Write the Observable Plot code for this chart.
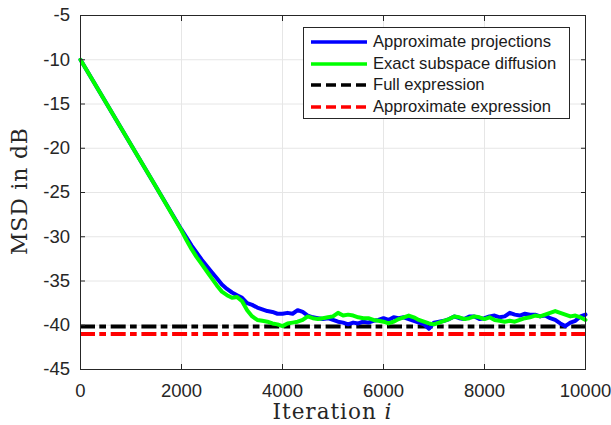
<!DOCTYPE html>
<html>
<head>
<meta charset="utf-8">
<script src="https://cdn.jsdelivr.net/npm/d3@7"></script>
<script src="https://cdn.jsdelivr.net/npm/@observablehq/plot@0.6"></script>
<style>
  body { margin: 0; background: white; }
  #wrap { position: relative; width: 611px; height: 425px; }
  #legend { position: absolute; left: 303px; top: 27px; width: 267px; height: 92px;
    border: 1px solid #262626; background: white; box-sizing: border-box;
    font-family: "Liberation Sans", Arial, sans-serif; font-size: 16.6px; color: #1a1a1a; }
  .row { position: absolute; left: 0; height: 20px; display: flex; align-items: center; white-space: nowrap; }
  .row svg { margin-left: 7px; margin-right: 6px; }
</style>
</head>
<body>
<div id="wrap"><div id="legend"></div></div>
<script>
const seriesNames = ["Approximate projections", "Exact subspace diffusion", "Full expression", "Approximate expression"];
const seriesColors = ["#0000ff", "#00ff00", "#000000", "#ff0000"];
const xTicks = [0, 2000, 4000, 6000, 8000, 10000];
const yTicks = [-45, -40, -35, -30, -25, -20, -15, -10, -5];

const blueIter = [0,500,1000,1500,2000,2100,2200,2300,2400,2500,2600,2700,2800,2900,3000,3100,3200,3300,3400,3500,3600,3700,3800,3900,4000,4100,4200,4300,4400,4500,4600,4700,4800,4900,5000,5100,5200,5300,5400,5500,5600,5700,5800,5900,6000,6100,6200,6300,6400,6500,6600,6700,6800,6900,7000,7100,7200,7300,7400,7500,7600,7700,7800,7900,8000,8100,8200,8300,8400,8500,8600,8700,8800,8900,9000,9100,9200,9300,9400,9500,9600,9700,9800,9900,10000];
const blueMsd = [-10,-14.8,-19.6,-24.4,-29.2,-30.1,-31.0,-31.8,-32.6,-33.3,-34.0,-34.7,-35.4,-35.9,-36.3,-36.6,-36.9,-37.5,-37.7,-38.0,-38.2,-38.4,-38.5,-38.7,-38.7,-38.6,-38.7,-38.3,-38.5,-38.9,-39.1,-39.2,-39.3,-39.2,-39.4,-39.6,-39.7,-39.9,-39.7,-39.8,-39.6,-39.7,-39.5,-39.4,-39.2,-39.4,-39.1,-39.2,-39.1,-39.3,-39.5,-39.7,-39.9,-40.4,-39.7,-39.6,-39.5,-39.3,-39.0,-39.2,-39.3,-39.0,-39.0,-39.3,-39.2,-39.0,-38.9,-39.1,-39.0,-38.6,-38.8,-38.9,-38.7,-38.8,-38.8,-39.0,-38.9,-39.2,-39.4,-39.8,-40.1,-39.7,-39.5,-39.0,-38.8];

const greenIter = [0,500,1000,1500,2000,2100,2200,2300,2400,2500,2600,2700,2800,2900,3000,3100,3200,3300,3400,3500,3600,3700,3800,3900,4000,4100,4200,4300,4400,4500,4600,4700,4800,4900,5000,5100,5200,5300,5400,5500,5600,5700,5800,5900,6000,6100,6200,6300,6400,6500,6600,6700,6800,6900,7000,7100,7200,7300,7400,7500,7600,7700,7800,7900,8000,8100,8200,8300,8400,8500,8600,8700,8800,8900,9000,9100,9200,9300,9400,9500,9600,9700,9800,9900,10000];
const greenMsd = [-10,-14.8,-19.6,-24.4,-29.3,-30.4,-31.4,-32.3,-33.1,-33.9,-34.7,-35.5,-36.2,-36.6,-36.9,-36.8,-37.3,-38.3,-39.0,-39.4,-39.5,-39.6,-39.8,-39.9,-40.1,-39.8,-39.7,-39.6,-39.4,-39.0,-39.2,-39.3,-39.2,-39.1,-39.0,-38.6,-38.9,-38.8,-38.9,-39.1,-39.2,-39.2,-39.4,-39.5,-39.6,-39.8,-39.6,-39.3,-39.1,-38.9,-39.1,-39.4,-39.6,-39.8,-39.9,-39.7,-39.5,-39.3,-39.0,-39.1,-39.3,-39.2,-39.0,-39.1,-39.3,-39.1,-39.4,-39.5,-39.6,-39.5,-39.6,-39.4,-39.2,-39.1,-38.9,-39.0,-38.8,-38.6,-38.4,-38.6,-38.8,-39.0,-38.9,-39.1,-39.4];

const fullExpression = -40.15;
const approxExpression = -41.0;

const blue = blueIter.map((x, i) => ({x, y: blueMsd[i]}));
const green = greenIter.map((x, i) => ({x, y: greenMsd[i]}));
const dash = "15,4.3,6.7,4.7";

const chart = Plot.plot({
  width: 611, height: 425,
  marginLeft: 80, marginRight: 26, marginTop: 15, marginBottom: 56,
  x: {domain: [0, 10000]},
  y: {domain: [-45, -5]},
  style: {fontFamily: "Liberation Sans, Arial, sans-serif", fontSize: "18.5px", color: "#262626", background: "white"},
  marks: [
    Plot.gridX(xTicks, {stroke: "#e6e6e6", strokeOpacity: 1}),
    Plot.gridY(yTicks, {stroke: "#e6e6e6", strokeOpacity: 1}),
    Plot.ruleY([fullExpression], {stroke: seriesColors[2], strokeWidth: 4, strokeDasharray: dash}),
    Plot.ruleY([approxExpression], {stroke: seriesColors[3], strokeWidth: 4, strokeDasharray: dash}),
    Plot.line(blue, {x: "x", y: "y", stroke: seriesColors[0], strokeWidth: 4}),
    Plot.line(green, {x: "x", y: "y", stroke: seriesColors[1], strokeWidth: 4}),
    Plot.axisX(xTicks, {anchor: "bottom", tickSize: 0, tickPadding: 14, tickFormat: d => String(d), label: null, fontSize: 18.5}),
    Plot.axisY(yTicks, {anchor: "left", tickSize: 0, tickPadding: 10.5, tickFormat: d => String(d), label: null, fontSize: 18.5}),
    Plot.axisX(xTicks, {anchor: "bottom", tickSize: -5, tickFormat: () => "", label: null, stroke: "#262626"}),
    Plot.axisX(xTicks, {anchor: "top", tickSize: -5, tickFormat: () => "", label: null, stroke: "#262626"}),
    Plot.axisY(yTicks, {anchor: "left", tickSize: -5, tickFormat: () => "", label: null, stroke: "#262626"}),
    Plot.axisY(yTicks, {anchor: "right", tickSize: -5, tickFormat: () => "", label: null, stroke: "#262626"}),
    Plot.frame({stroke: "#262626"})
  ]
});

const svg = d3.select(chart);
svg.append("text")
  .attr("x", 332).attr("y", 419)
  .attr("text-anchor", "middle")
  .attr("font-family", "DejaVu Serif, Liberation Serif, serif")
  .attr("font-size", 21.5).attr("fill", "#262626")
  .attr("textLength", 119).attr("lengthAdjust", "spacing")
  .html('Iteration <tspan font-style="italic">i</tspan>');
svg.append("text")
  .attr("transform", "translate(27,191.5) rotate(-90)")
  .attr("text-anchor", "middle")
  .attr("font-family", "DejaVu Serif, Liberation Serif, serif")
  .attr("font-size", 22).attr("fill", "#262626")
  .attr("textLength", 127).attr("lengthAdjust", "spacing")
  .text("MSD in dB");

const wrap = document.getElementById("wrap");
wrap.insertBefore(chart, wrap.firstChild);

const legend = document.getElementById("legend");
seriesNames.forEach((name, i) => {
  const row = document.createElement("div");
  row.className = "row";
  row.style.top = (4 + i * 21.7) + "px";
  const dashed = i >= 2 ? ' stroke-dasharray="10,5"' : '';
  row.innerHTML = `<svg width="56" height="6"><line x1="0" y1="3" x2="56" y2="3" stroke="${seriesColors[i]}" stroke-width="3.5"${dashed}/></svg><span>${name}</span>`;
  legend.appendChild(row);
});
</script>
</body>
</html>
